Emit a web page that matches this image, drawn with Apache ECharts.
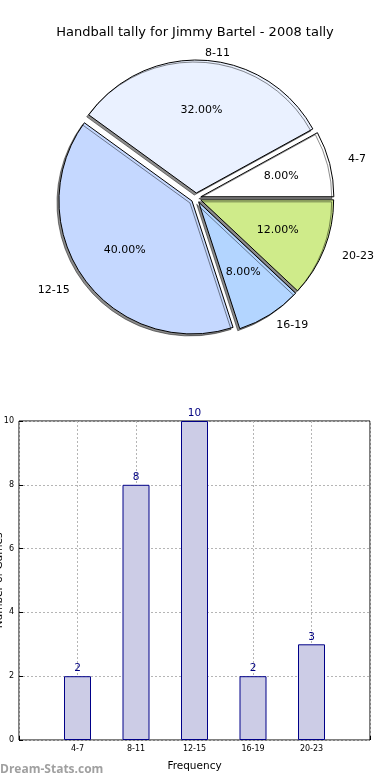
<!DOCTYPE html>
<html><head><meta charset="utf-8">
<script src="https://cdn.jsdelivr.net/npm/echarts@6/dist/echarts.min.js"></script>
<style>html,body{margin:0;padding:0;background:#fff}#c{width:390px;height:780px}</style>
</head><body><div id="c"></div>
<script>
const titleText = 'Handball tally for Jimmy Bartel - 2008 tally';
const categories = ['4-7', '8-11', '12-15', '16-19', '20-23'];
const counts = [2, 8, 10, 2, 3];
const sliceColors = ['#ffffff', '#eaf1ff', '#c5d8ff', '#b3d5ff', '#cfeb8a'];
const yTicks = [0, 2, 4, 6, 8, 10];
const xAxisName = 'Frequency';
const yAxisName = 'Number of Games';
const watermark = 'Dream-Stats.com';

const FONT = 'DejaVu Sans';
const R = 133;
// outer label distance per slice (style only)
const labelLens = [19, 7, 18, 12, 19];
const pieData = categories.map((c, i) => ({
  name: c, value: counts[i], selected: true,
  itemStyle: { color: sliceColors[i] },
  labelLine: { show: false, length: labelLens[i], length2: 0 }
}));
const pieLabelData = categories.map((c, i) => ({ name: c, value: counts[i], selected: true }));

const barCats = [''].concat(categories, ['']);
const barVals = [null].concat(counts, [null]);

const chart = echarts.init(document.getElementById('c'), null, { renderer: 'canvas' });
chart.setOption({
  animation: false,
  backgroundColor: '#fff',
  title: {
    text: titleText, left: 'center', top: 21,
    textStyle: { fontFamily: FONT, fontSize: 13, fontWeight: 'normal', color: '#000' }
  },
  graphic: [{
    type: 'text', left: 0, top: 764,
    style: { text: watermark, fill: '#a0a0a0', font: 'bold 12px "Open Sans"' }
  }],
  grid: {
    left: 19, right: 20, top: 421, bottom: 40,
    containLabel: false, outerBoundsMode: 'none',
    show: true, borderColor: '#000', borderWidth: 1, backgroundColor: 'transparent'
  },
  xAxis: {
    type: 'category', data: barCats, boundaryGap: false,
    name: xAxisName, nameLocation: 'middle', nameGap: 21,
    nameTextStyle: { fontFamily: FONT, fontSize: 10.5, color: '#000' },
    axisLine: { show: false },
    axisTick: { show: true, inside: true, length: 4, interval: 0, lineStyle: { color: '#000' } },
    axisLabel: { fontFamily: FONT, fontSize: 8, color: '#000', interval: 0, margin: 5 },
    splitLine: { show: true, interval: 0, lineStyle: { type: [2, 2], color: '#b5b5b5', width: 1 } }
  },
  yAxis: {
    type: 'value', min: yTicks[0], max: yTicks[yTicks.length - 1], interval: 2,
    name: yAxisName, nameLocation: 'middle', nameGap: 14, nameRotate: 90, nameMoveOverlap: false,
    nameTextStyle: { fontFamily: FONT, fontSize: 10.5, color: '#000' },
    axisLine: { show: false },
    axisTick: { show: true, inside: true, length: 4, lineStyle: { color: '#000' } },
    axisLabel: { fontFamily: FONT, fontSize: 8, color: '#000', margin: 5 },
    splitLine: { show: true, lineStyle: { type: [2, 2], color: '#b5b5b5', width: 1 } }
  },
  series: [
    {
      type: 'pie', center: [196, 198], radius: [0, R],
      startAngle: 0, clockwise: false,
      selectedMode: 'multiple', selectedOffset: 5,
      avoidLabelOverlap: false, silent: true,
      itemStyle: {
        borderColor: '#000', borderWidth: 1,
        shadowColor: 'rgba(0,0,0,0.45)', shadowOffsetX: -2, shadowOffsetY: 2, shadowBlur: 0
      },
      label: {
        show: true, position: 'outside', formatter: '{b}', rotate: 0,
        fontFamily: FONT, fontSize: 11, color: '#000', distanceToLabelLine: 0
      },
      labelLine: { show: false, length: 12, length2: 0 },
      emphasis: { disabled: true },
      select: { itemStyle: { borderColor: '#000', borderWidth: 1 } },
      data: pieData
    },
    {
      type: 'pie', center: [196, 198], radius: [Math.round(R * 0.2), R],
      startAngle: 0, clockwise: false,
      selectedMode: 'multiple', selectedOffset: 5,
      avoidLabelOverlap: false, silent: true, z: 5,
      itemStyle: { color: 'rgba(0,0,0,0)', borderWidth: 0 },
      label: {
        show: true, position: 'inside', rotate: 0,
        formatter: p => p.percent.toFixed(2) + '%',
        fontFamily: FONT, fontSize: 11, color: '#000'
      },
      labelLine: { show: false },
      emphasis: { disabled: true },
      select: { itemStyle: { color: 'rgba(0,0,0,0)', borderWidth: 0 } },
      data: pieLabelData
    },
    {
      type: 'bar', data: barVals, barWidth: 27,
      itemStyle: { color: '#ccccE6', borderColor: '#000088', borderWidth: 1 },
      label: { show: true, position: 'top', distance: 2, fontFamily: FONT, fontSize: 10.5, color: '#000080' },
      emphasis: { disabled: true }, silent: true, z: 3
    }
  ]
});
</script></body></html>
